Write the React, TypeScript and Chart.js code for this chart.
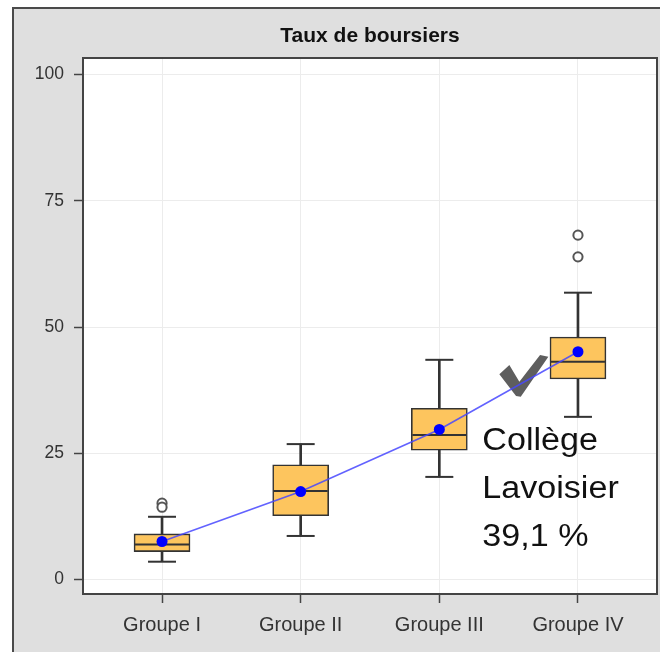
import React, { useEffect, useRef } from "react";
import { Chart, registerables } from "chart.js";

Chart.register(...registerables);

// ---- data ----
const categories = ["Groupe I", "Groupe II", "Groupe III", "Groupe IV"];
const positions = [1, 2, 3, 4];
const whiskerLow = [3.5, 8.6, 20.3, 32.2];
const q1 = [5.5, 12.6, 25.6, 39.7];
const median = [6.9, 17.5, 28.6, 43.1];
const q3 = [9.0, 22.7, 33.9, 48.0];
const whiskerHigh = [12.4, 26.8, 43.5, 56.8];
const means = [7.5, 17.4, 29.7, 45.1];
const outlierGroup = [1, 1, 4, 4];
const outlierValues = [15.1, 14.3, 63.9, 68.2];
const yTicks = [0, 25, 50, 75, 100];
const chartTitle = "Taux de boursiers";
const noteLines = ["Collège", "Lavoisier", "39,1 %"];
const notePos = { x: 3.31, y: 25.6 };
const checkPos = { x: 3.57, y: 36.4 };

const FONT = "'Liberation Sans', Arial, sans-serif";
const DARK = "#333333";

const framePlugin = {
  id: "frame",
  beforeDraw(chart: any) {
    const { ctx, width, height, chartArea: a } = chart;
    ctx.save();
    ctx.fillStyle = "#ffffff";
    ctx.fillRect(0, 0, width, height);
    ctx.fillStyle = "#dfdfdf";
    ctx.fillRect(13, 8, width - 13, height - 8);
    ctx.strokeStyle = "#4a4a4a";
    ctx.lineWidth = 2;
    ctx.beginPath();
    ctx.moveTo(13, height);
    ctx.lineTo(13, 8);
    ctx.lineTo(width, 8);
    ctx.stroke();
    ctx.fillStyle = "#ffffff";
    ctx.fillRect(a.left, a.top, a.right - a.left, a.bottom - a.top);
    ctx.restore();
  },
  beforeDatasetsDraw(chart: any) {
    const { ctx, scales } = chart;
    const bx = scales.x.getPixelForValue(checkPos.x);
    const by = scales.y.getPixelForValue(checkPos.y);
    const pts = [
      [-19, -21.4],
      [-9, -30.7],
      [1, -14],
      [21.7, -40.7],
      [30, -39],
      [2.4, 1],
      [-2.3, 0.3],
    ];
    ctx.save();
    ctx.fillStyle = "#5e5e5e";
    ctx.beginPath();
    pts.forEach(([dx, dy], i) => {
      if (i === 0) ctx.moveTo(bx + dx, by + dy);
      else ctx.lineTo(bx + dx, by + dy);
    });
    ctx.closePath();
    ctx.fill();
    ctx.restore();
  },
  afterDraw(chart: any) {
    const { ctx, chartArea: a, scales } = chart;
    ctx.save();
    // plot frame
    ctx.strokeStyle = "#444444";
    ctx.lineWidth = 2;
    ctx.strokeRect(a.left, a.top, a.right - a.left, a.bottom - a.top);
    // title
    ctx.fillStyle = "#111111";
    ctx.font = `bold 21px ${FONT}`;
    ctx.textAlign = "center";
    ctx.textBaseline = "alphabetic";
    ctx.fillText(chartTitle, (a.left + a.right) / 2, 42);
    // note
    const nx = scales.x.getPixelForValue(notePos.x);
    const ny = scales.y.getPixelForValue(notePos.y);
    ctx.font = `31px ${FONT}`;
    ctx.textAlign = "left";
    ctx.fillStyle = "#111111";
    noteLines.forEach((line, i) => {
      ctx.save();
      ctx.translate(nx, ny + i * 48);
      ctx.scale(1.1, 1);
      ctx.fillText(line, 0, 0);
      ctx.restore();
    });
    ctx.restore();
  },
};

function buildConfig(): any {
  const pointsOf = (vals: number[]) => positions.map((x, i) => ({ x, y: vals[i] }));
  return {
    type: "bar",
    data: {
      datasets: [
        {
          type: "line",
          label: "Moyenne",
          data: pointsOf(means),
          borderColor: "rgba(70,70,255,0.85)",
          borderWidth: 1.6,
          pointRadius: 5.5,
          pointBackgroundColor: "#0000ff",
          pointBorderWidth: 0,
          order: 0,
        },
        {
          type: "line",
          label: "Extrêmes",
          data: outlierValues.map((y, i) => ({ x: outlierGroup[i], y })),
          showLine: false,
          pointStyle: "circle",
          pointRadius: 4.6,
          pointBackgroundColor: "#ffffff",
          pointBorderColor: "#555555",
          pointBorderWidth: 2,
          order: 1,
        },
        {
          type: "line",
          label: "Médiane",
          data: pointsOf(median),
          showLine: false,
          pointStyle: "line",
          pointRadius: 27,
          pointBorderColor: DARK,
          pointBorderWidth: 2,
          order: 2,
        },
        {
          type: "bar",
          label: "Boîte",
          data: positions.map((x, i) => ({ x, y: [q1[i], q3[i]] })),
          backgroundColor: "#fdc55e",
          borderColor: DARK,
          borderWidth: 1.6,
          borderSkipped: false,
          barThickness: 56,
          grouped: false,
          order: 3,
        },
        {
          type: "line",
          label: "Moustache basse",
          data: pointsOf(whiskerLow),
          showLine: false,
          pointStyle: "line",
          pointRadius: 14,
          pointBorderColor: DARK,
          pointBorderWidth: 2,
          order: 4,
        },
        {
          type: "line",
          label: "Moustache haute",
          data: pointsOf(whiskerHigh),
          showLine: false,
          pointStyle: "line",
          pointRadius: 14,
          pointBorderColor: DARK,
          pointBorderWidth: 2,
          order: 4,
        },
        {
          type: "bar",
          label: "Tige",
          data: positions.map((x, i) => ({ x, y: [whiskerLow[i], whiskerHigh[i]] })),
          backgroundColor: DARK,
          borderWidth: 0,
          barThickness: 2,
          grouped: false,
          order: 5,
        },
      ],
    },
    options: {
      responsive: false,
      animation: false,
      events: [],
      layout: { autoPadding: false, padding: { top: 58, right: 3, bottom: 0, left: 0 } },
      plugins: {
        legend: { display: false },
        title: { display: false },
        tooltip: { enabled: false },
      },
      scales: {
        x: {
          type: "linear",
          min: 0.43,
          max: 4.57,
          offset: false,
          afterBuildTicks: (s: any) => {
            s.ticks = positions.map((v) => ({ value: v }));
          },
          afterFit: (s: any) => {
            s.height = 58;
            s.paddingLeft = 0;
            s.paddingRight = 0;
            s.paddingTop = 0;
            s.paddingBottom = 0;
          },
          grid: {
            color: "#ececec",
            lineWidth: 1,
            offset: false,
            tickColor: "#444444",
            tickLength: 9,
            tickWidth: 1.5,
          },
          border: { display: false },
          ticks: {
            autoSkip: false,
            maxRotation: 0,
            padding: 10,
            color: "#333333",
            font: { family: FONT, size: 20 },
            callback: (v: number) => categories[positions.indexOf(v)] ?? "",
          },
        },
        y: {
          type: "linear",
          min: -2.9,
          max: 103.3,
          afterBuildTicks: (s: any) => {
            s.ticks = yTicks.map((v) => ({ value: v }));
          },
          afterFit: (s: any) => {
            s.width = 83;
            s.paddingLeft = 0;
            s.paddingRight = 0;
            s.paddingTop = 0;
            s.paddingBottom = 0;
          },
          grid: {
            color: "#ececec",
            lineWidth: 1,
            tickColor: "#444444",
            tickLength: 9,
            tickWidth: 1.5,
          },
          border: { display: false },
          ticks: {
            padding: 10,
            color: "#333333",
            font: { family: FONT, size: 17.5 },
            callback: (v: number) => String(v),
          },
        },
      },
    },
    plugins: [framePlugin],
  };
}

export default function App() {
  const ref = useRef<HTMLCanvasElement | null>(null);
  useEffect(() => {
    document.body.style.margin = "0";
    document.body.style.overflow = "hidden";
    const chart = new Chart(ref.current as HTMLCanvasElement, buildConfig());
    return () => chart.destroy();
  }, []);
  return (
    <canvas
      ref={ref}
      width={660}
      height={652}
      style={{ display: "block", width: 660, height: 652 }}
    />
  );
}
